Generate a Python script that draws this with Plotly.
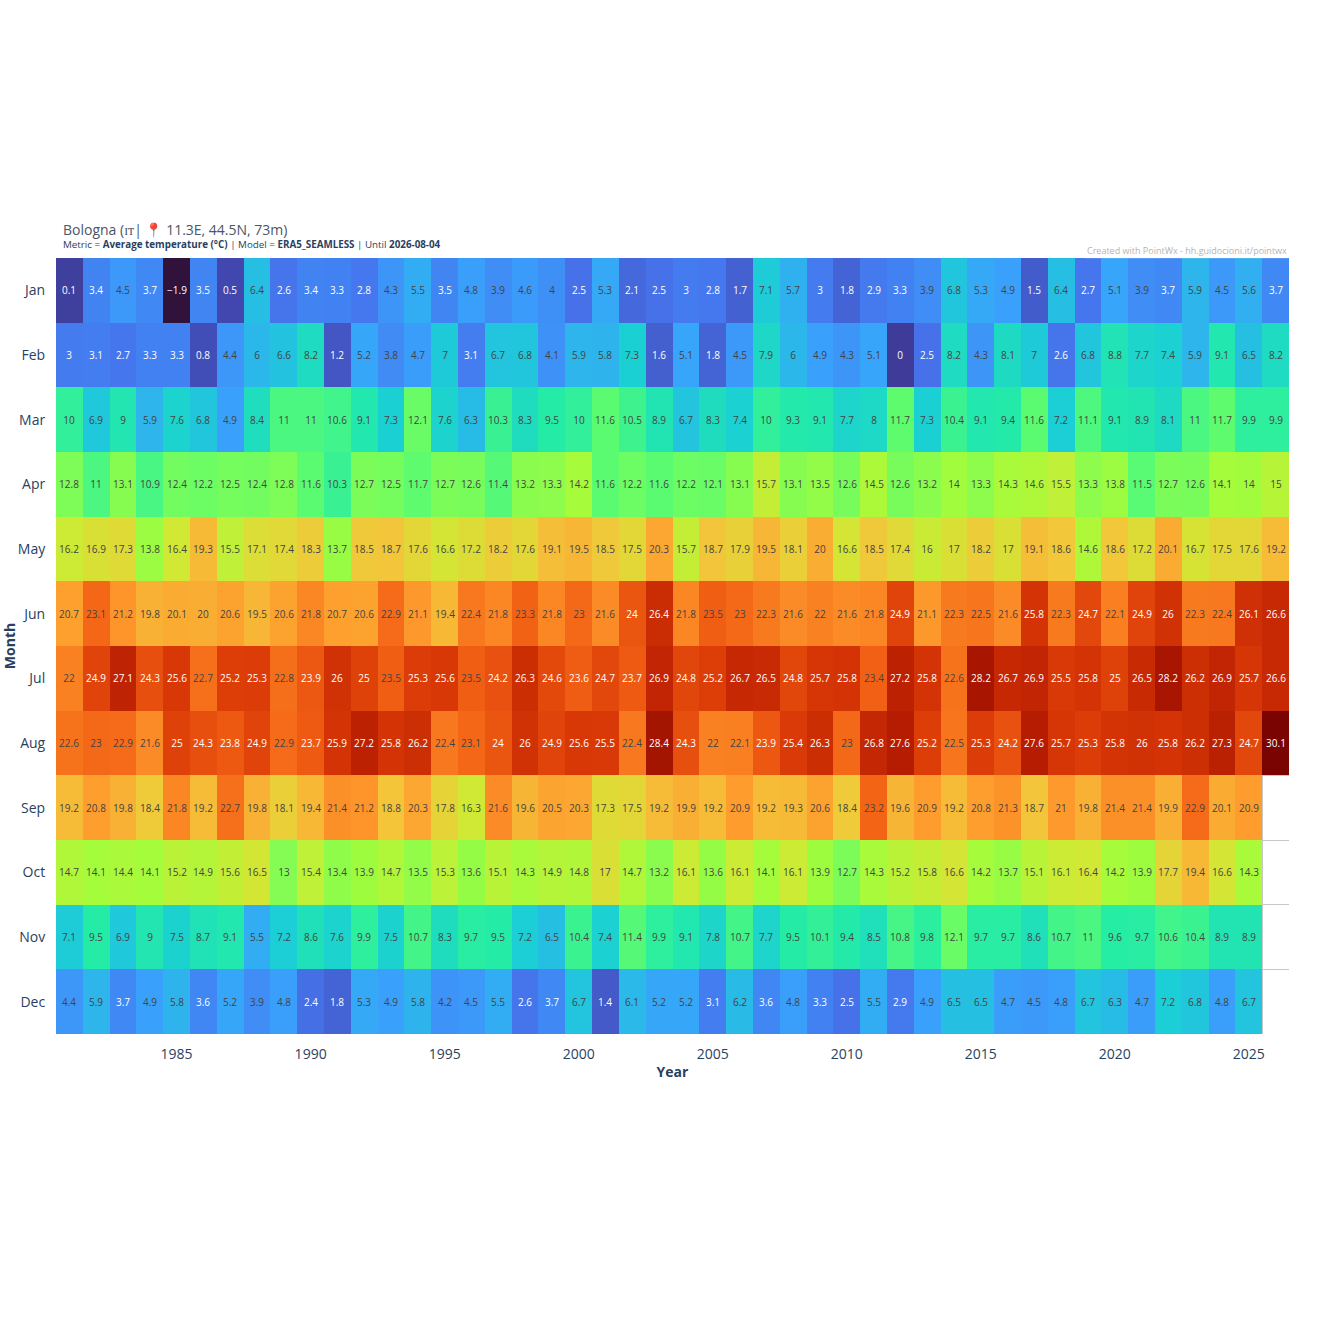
import plotly.graph_objects as go

years = list(range(1981, 2027))
months = ["Jan", "Feb", "Mar", "Apr", "May", "Jun", "Jul", "Aug", "Sep", "Oct", "Nov", "Dec"]

jan = [0.1, 3.4, 4.5, 3.7, -1.9, 3.5, 0.5, 6.4, 2.6, 3.4, 3.3, 2.8, 4.3, 5.5, 3.5, 4.8, 3.9, 4.6, 4, 2.5, 5.3, 2.1, 2.5, 3, 2.8, 1.7, 7.1, 5.7, 3, 1.8, 2.9, 3.3, 3.9, 6.8, 5.3, 4.9, 1.5, 6.4, 2.7, 5.1, 3.9, 3.7, 5.9, 4.5, 5.6, 3.7]
feb = [3, 3.1, 2.7, 3.3, 3.3, 0.8, 4.4, 6, 6.6, 8.2, 1.2, 5.2, 3.8, 4.7, 7, 3.1, 6.7, 6.8, 4.1, 5.9, 5.8, 7.3, 1.6, 5.1, 1.8, 4.5, 7.9, 6, 4.9, 4.3, 5.1, 0, 2.5, 8.2, 4.3, 8.1, 7, 2.6, 6.8, 8.8, 7.7, 7.4, 5.9, 9.1, 6.5, 8.2]
mar = [10, 6.9, 9, 5.9, 7.6, 6.8, 4.9, 8.4, 11, 11, 10.6, 9.1, 7.3, 12.1, 7.6, 6.3, 10.3, 8.3, 9.5, 10, 11.6, 10.5, 8.9, 6.7, 8.3, 7.4, 10, 9.3, 9.1, 7.7, 8, 11.7, 7.3, 10.4, 9.1, 9.4, 11.6, 7.2, 11.1, 9.1, 8.9, 8.1, 11, 11.7, 9.9, 9.9]
apr = [12.8, 11, 13.1, 10.9, 12.4, 12.2, 12.5, 12.4, 12.8, 11.6, 10.3, 12.7, 12.5, 11.7, 12.7, 12.6, 11.4, 13.2, 13.3, 14.2, 11.6, 12.2, 11.6, 12.2, 12.1, 13.1, 15.7, 13.1, 13.5, 12.6, 14.5, 12.6, 13.2, 14, 13.3, 14.3, 14.6, 15.5, 13.3, 13.8, 11.5, 12.7, 12.6, 14.1, 14, 15]
may = [16.2, 16.9, 17.3, 13.8, 16.4, 19.3, 15.5, 17.1, 17.4, 18.3, 13.7, 18.5, 18.7, 17.6, 16.6, 17.2, 18.2, 17.6, 19.1, 19.5, 18.5, 17.5, 20.3, 15.7, 18.7, 17.9, 19.5, 18.1, 20, 16.6, 18.5, 17.4, 16, 17, 18.2, 17, 19.1, 18.6, 14.6, 18.6, 17.2, 20.1, 16.7, 17.5, 17.6, 19.2]
jun = [20.7, 23.1, 21.2, 19.8, 20.1, 20, 20.6, 19.5, 20.6, 21.8, 20.7, 20.6, 22.9, 21.1, 19.4, 22.4, 21.8, 23.3, 21.8, 23, 21.6, 24, 26.4, 21.8, 23.5, 23, 22.3, 21.6, 22, 21.6, 21.8, 24.9, 21.1, 22.3, 22.5, 21.6, 25.8, 22.3, 24.7, 22.1, 24.9, 26, 22.3, 22.4, 26.1, 26.6]
jul = [22, 24.9, 27.1, 24.3, 25.6, 22.7, 25.2, 25.3, 22.8, 23.9, 26, 25, 23.5, 25.3, 25.6, 23.5, 24.2, 26.3, 24.6, 23.6, 24.7, 23.7, 26.9, 24.8, 25.2, 26.7, 26.5, 24.8, 25.7, 25.8, 23.4, 27.2, 25.8, 22.6, 28.2, 26.7, 26.9, 25.5, 25.8, 25, 26.5, 28.2, 26.2, 26.9, 25.7, 26.6]
aug = [22.6, 23, 22.9, 21.6, 25, 24.3, 23.8, 24.9, 22.9, 23.7, 25.9, 27.2, 25.8, 26.2, 22.4, 23.1, 24, 26, 24.9, 25.6, 25.5, 22.4, 28.4, 24.3, 22, 22.1, 23.9, 25.4, 26.3, 23, 26.8, 27.6, 25.2, 22.5, 25.3, 24.2, 27.6, 25.7, 25.3, 25.8, 26, 25.8, 26.2, 27.3, 24.7, 30.1]
sep = [19.2, 20.8, 19.8, 18.4, 21.8, 19.2, 22.7, 19.8, 18.1, 19.4, 21.4, 21.2, 18.8, 20.3, 17.8, 16.3, 21.6, 19.6, 20.5, 20.3, 17.3, 17.5, 19.2, 19.9, 19.2, 20.9, 19.2, 19.3, 20.6, 18.4, 23.2, 19.6, 20.9, 19.2, 20.8, 21.3, 18.7, 21, 19.8, 21.4, 21.4, 19.9, 22.9, 20.1, 20.9, None]
oct_ = [14.7, 14.1, 14.4, 14.1, 15.2, 14.9, 15.6, 16.5, 13, 15.4, 13.4, 13.9, 14.7, 13.5, 15.3, 13.6, 15.1, 14.3, 14.9, 14.8, 17, 14.7, 13.2, 16.1, 13.6, 16.1, 14.1, 16.1, 13.9, 12.7, 14.3, 15.2, 15.8, 16.6, 14.2, 13.7, 15.1, 16.1, 16.4, 14.2, 13.9, 17.7, 19.4, 16.6, 14.3, None]
nov = [7.1, 9.5, 6.9, 9, 7.5, 8.7, 9.1, 5.5, 7.2, 8.6, 7.6, 9.9, 7.5, 10.7, 8.3, 9.7, 9.5, 7.2, 6.5, 10.4, 7.4, 11.4, 9.9, 9.1, 7.8, 10.7, 7.7, 9.5, 10.1, 9.4, 8.5, 10.8, 9.8, 12.1, 9.7, 9.7, 8.6, 10.7, 11, 9.6, 9.7, 10.6, 10.4, 8.9, 8.9, None]
dec = [4.4, 5.9, 3.7, 4.9, 5.8, 3.6, 5.2, 3.9, 4.8, 2.4, 1.8, 5.3, 4.9, 5.8, 4.2, 4.5, 5.5, 2.6, 3.7, 6.7, 1.4, 6.1, 5.2, 5.2, 3.1, 6.2, 3.6, 4.8, 3.3, 2.5, 5.5, 2.9, 4.9, 6.5, 6.5, 4.7, 4.5, 4.8, 6.7, 6.3, 4.7, 7.2, 6.8, 4.8, 6.7, None]

rows = [jan, feb, mar, apr, may, jun, jul, aug, sep, oct_, nov, dec]
FONT = "Open Sans"
INK = "#2a3f5f"

fig = go.Figure(go.Heatmap(
    x=years, y=list(range(12)), z=rows,
    colorscale="Turbo", showscale=False,
    texttemplate="%{z}", textfont=dict(size=10, family=FONT),
    hoverongaps=False,
))

fig.update_layout(
    width=1317, height=1317, autosize=False,
    margin=dict(l=56, r=28, t=258, b=283, autoexpand=False),
    paper_bgcolor="white", plot_bgcolor="white",
    font=dict(family=FONT, color=INK),
    title=dict(
        text="Bologna (ɪᴛ| 📍 11.3E, 44.5N, 73m)",
        font=dict(size=14, family=FONT, color="#4a5568"),
        xref="paper", x=0, xanchor="left", pad=dict(l=7, b=23),
        yref="paper", y=1, yanchor="bottom",
    ),
    xaxis=dict(
        automargin=False,
        range=[1980.5, 2026.5], tick0=1985, dtick=5, showgrid=False, zeroline=False,
        ticks="outside", ticklen=7, tickcolor="rgba(0,0,0,0)",
        tickfont=dict(size=14),
        title=dict(text="<b>Year</b>", font=dict(size=14), standoff=5),
        minor=dict(tickvals=[2025.5], showgrid=True, gridcolor="#c8c8c8", gridwidth=1, ticks=""),
    ),
    yaxis=dict(
        automargin=False,
        range=[11.5, -0.5], tickvals=list(range(12)), ticktext=months,
        showgrid=False, zeroline=False,
        ticks="outside", ticklen=7, tickcolor="rgba(0,0,0,0)",
        tickfont=dict(size=14),
        title=dict(text="<b>Month</b>", font=dict(size=14), standoff=2),
        minor=dict(tickvals=[i + 0.5 for i in range(7, 11)], showgrid=True, gridcolor="#c8c8c8", gridwidth=1, ticks=""),
    ),
    annotations=[
        dict(
            text="Metric = <b>Average temperature (°C)</b> | Model = <b>ERA5_SEAMLESS</b> | Until <b>2026-08-04</b>",
            xref="paper", yref="paper", x=0, y=1, xanchor="left", yanchor="bottom",
            xshift=5, yshift=5, showarrow=False, font=dict(size=9.8, color=INK, family=FONT),
        ),
        dict(
            text="Created with PointWx - hh.guidocioni.it/pointwx",
            xref="paper", yref="paper", x=1, y=1, xanchor="right", yanchor="bottom",
            yshift=-1, showarrow=False, font=dict(size=9, color="#b4b4b4", family=FONT),
            bgcolor="rgba(255,255,255,0.25)",
        ),
    ],
)

fig.write_html("out.html", config=dict(displayModeBar=False), post_script="document.body.style.margin='0';")
